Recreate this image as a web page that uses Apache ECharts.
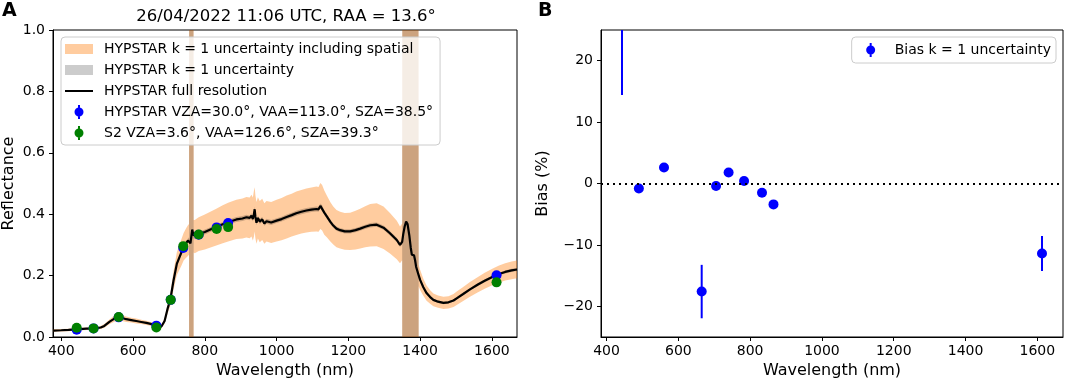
<!DOCTYPE html>
<html><head><meta charset="utf-8">
<script src="https://cdn.jsdelivr.net/npm/echarts@6/dist/echarts.min.js"></script>
<style>html,body{margin:0;padding:0;background:#fff}#c{width:1065px;height:385px}</style>
</head><body><div id="c"></div>
<script>
// ---------- data ----------
const specWl = [378,400,420,443,470,493,510,520,535,548,558,570,581,595,609,623,637,652,665,679,688,697,704,713,722,735,741,748,753,756,757,760,765,768,769,772,783,800,814,832,850,865,888,905,916,925,930,934,937,939,941,944,948,953,960,966,972,985,1000,1014,1028,1042,1055,1069,1083,1097,1111,1117,1122,1127,1133,1140,1150,1158,1167,1177,1190,1205,1220,1233,1247,1261,1279,1298,1316,1335,1344,1350,1351,1353,1357,1361,1365,1370,1374,1377,1380,1383,1386,1389,1395,1396,1400,1409,1418,1428,1437,1450,1465,1479,1493,1502,1520,1539,1560,1580,1604,1620,1637,1655,1670];
const specRefl = [0.021,0.022,0.023,0.025,0.027,0.028,0.031,0.036,0.050,0.060,0.065,0.062,0.058,0.055,0.052,0.049,0.046,0.042,0.037,0.034,0.052,0.095,0.122,0.185,0.238,0.276,0.294,0.306,0.314,0.318,0.316,0.305,0.350,0.332,0.328,0.327,0.335,0.342,0.349,0.358,0.367,0.374,0.383,0.386,0.390,0.388,0.395,0.384,0.402,0.416,0.392,0.372,0.388,0.376,0.383,0.370,0.377,0.373,0.379,0.384,0.391,0.397,0.403,0.408,0.412,0.415,0.417,0.416,0.427,0.421,0.405,0.393,0.375,0.363,0.353,0.348,0.344,0.344,0.348,0.353,0.359,0.364,0.366,0.356,0.338,0.316,0.300,0.310,0.315,0.335,0.360,0.376,0.368,0.330,0.290,0.268,0.262,0.266,0.250,0.228,0.205,0.200,0.186,0.162,0.143,0.130,0.121,0.115,0.111,0.113,0.119,0.126,0.140,0.155,0.170,0.183,0.197,0.205,0.212,0.217,0.220];
// k = 1 uncertainty including spatial (half width, reflectance units)
const spatUnc = [0.004,0.004,0.004,0.004,0.004,0.004,0.005,0.006,0.008,0.010,0.011,0.010,0.009,0.008,0.008,0.007,0.007,0.006,0.006,0.006,0.009,0.016,0.020,0.030,0.037,0.043,0.045,0.048,0.050,0.050,2,2,2,2,0.053,0.054,0.055,0.057,0.058,0.060,0.062,0.063,0.064,0.065,0.066,0.066,0.068,0.070,0.075,0.072,0.070,0.068,0.067,0.067,0.067,0.066,0.066,0.067,0.068,0.069,0.070,0.070,0.071,0.071,0.072,0.072,0.073,0.073,0.075,0.074,0.072,0.068,0.064,0.062,0.061,0.060,0.060,0.061,0.063,0.065,0.067,0.069,0.070,0.069,0.066,0.063,0.060,0.060,2,2,2,2,2,2,2,2,2,2,2,2,2,0.035,0.033,0.028,0.025,0.022,0.021,0.020,0.020,0.020,0.021,0.022,0.023,0.024,0.025,0.026,0.027,0.028,0.028,0.029,0.029];
// k = 1 instrument uncertainty (half width)
const instUnc = [0.002,0.002,0.002,0.002,0.002,0.002,0.002,0.002,0.002,0.002,0.002,0.002,0.002,0.002,0.002,0.002,0.002,0.002,0.002,0.002,0.003,0.003,0.004,0.004,0.005,0.005,0.006,0.006,0.007,0.007,2,2,2,2,0.007,0.007,0.007,0.008,0.008,0.008,0.008,0.008,0.008,0.008,0.008,0.008,0.008,0.008,0.009,0.009,0.009,0.008,0.008,0.008,0.008,0.008,0.008,0.008,0.008,0.008,0.008,0.008,0.008,0.008,0.008,0.008,0.008,0.008,0.008,0.008,0.008,0.008,0.008,0.007,0.007,0.007,0.007,0.007,0.007,0.007,0.007,0.007,0.007,0.007,0.007,0.007,0.007,0.007,2,2,2,2,2,2,2,2,2,2,2,2,2,0.006,0.006,0.005,0.005,0.005,0.004,0.004,0.004,0.004,0.004,0.004,0.004,0.004,0.005,0.005,0.005,0.005,0.005,0.005,0.005];

const s2Bands = [443, 490, 560, 665, 705, 740, 783, 833, 865, 1613];
const hypRefl = [0.024, 0.028, 0.064, 0.037, 0.121, 0.290, 0.333, 0.357, 0.371, 0.201];
const s2Refl  = [0.030, 0.028, 0.065, 0.031, 0.121, 0.296, 0.334, 0.352, 0.358, 0.178];
const biasPct = [31.0, -0.8, 2.6, -17.6, -0.4, 1.8, 0.4, -1.5, -3.4, -11.4];
const biasUnc = [16.6, 0.4, 0.4, 4.35, 0.4, 0.4, 0.4, 0.4, 0.4, 2.85];

const xTicks = [400, 600, 800, 1000, 1200, 1400, 1600];
const yTicksA = [0, 0.2, 0.4, 0.6, 0.8, 1.0];
const yTicksB = [-20, -10, 0, 10, 20];

const titleText = '26/04/2022 11:06 UTC, RAA = 13.6°';
const names = {
  spat: 'HYPSTAR k = 1 uncertainty including spatial',
  inst: 'HYPSTAR k = 1 uncertainty',
  line: 'HYPSTAR full resolution',
  hyp: 'HYPSTAR VZA=30.0°, VAA=113.0°, SZA=38.5°',
  s2: 'S2 VZA=3.6°, VAA=126.6°, SZA=39.3°',
  bias: 'Bias k = 1 uncertainty'
};

// ---------- styling ----------
const FONT = 'DejaVu Sans';
const ORANGE = 'rgba(255,127,14,0.40)';
const GREY = 'rgba(0,0,0,0.20)';
const BLUE = '#0000ff';
const GREEN = '#008000';

const patchIcon = 'path://M0,2h28v10h-28z M0,0L0,0 M0,14L0,14';
const lineIcon = 'path://M0,6h28v2h-28z M0,0L0,0 M0,14L0,14';
const ebIcon = 'path://M13,0h2v14h-2z M9.5,7a4.5,4.5 0 1,1 9,0a4.5,4.5 0 1,1 -9,0z M0,7L0,7 M28,7L28,7';

function bandRender(half, color) {
  return function (params, api) {
    if (params.dataIndex !== 0) return;
    const pts = [];
    for (let i = 0; i < specWl.length; i++) pts.push(api.coord([specWl[i], specRefl[i] + half[i]]));
    for (let i = specWl.length - 1; i >= 0; i--) pts.push(api.coord([specWl[i], specRefl[i] - half[i]]));
    return { type: 'polygon', shape: { points: pts }, style: { fill: color } };
  };
}

function errRender(params, api) {
  const x = api.value(0), y = api.value(1), e = api.value(2);
  const p1 = api.coord([x, y + e]);
  const p2 = api.coord([x, y - e]);
  return { type: 'line', shape: { x1: p1[0], y1: p1[1], x2: p2[0], y2: p2[1] },
           style: { stroke: BLUE, lineWidth: 2 } };
}

const axisText = { fontFamily: FONT, fontSize: 14, color: '#000' };
const nameText = { fontFamily: FONT, fontSize: 16, color: '#000' };
const minus = v => (v < 0 ? '\u2212' + (-v) : String(v));

function xAxis(grid, min, max) {
  return {
    gridIndex: grid, type: 'value', min: min, max: max,
    axisLine: { show: true, onZero: false, lineStyle: { color: '#000', width: 1 } },
    axisTick: { show: true, length: 4, customValues: xTicks, lineStyle: { color: '#000' } },
    axisLabel: Object.assign({ customValues: xTicks, margin: 7, formatter: v => String(v) }, axisText),
    splitLine: { show: false },
    name: 'Wavelength (nm)', nameLocation: 'middle', nameGap: 25, nameTextStyle: nameText
  };
}

const chart = echarts.init(document.getElementById('c'), null, { renderer: 'canvas' });
chart.setOption({
  animation: false,
  backgroundColor: '#fff',
  grid: [
    { left: 53, top: 30, width: 464, height: 307, show: true, borderColor: '#000', borderWidth: 1, outerBoundsMode: 'none', containLabel: false },
    { left: 601, top: 30, width: 462, height: 307, show: true, borderColor: '#000', borderWidth: 1, outerBoundsMode: 'none', containLabel: false }
  ],
  xAxis: [xAxis(0, 377, 1670), xAxis(1, 384.5, 1671.5)],
  yAxis: [
    {
      gridIndex: 0, type: 'value', min: 0, max: 1, interval: 0.2,
      axisLine: { show: true, lineStyle: { color: '#000' } },
      axisTick: { show: true, length: 4, customValues: yTicksA, lineStyle: { color: '#000' } },
      axisLabel: Object.assign({ margin: 8, customValues: yTicksA, formatter: v => v.toFixed(1) }, axisText),
      splitLine: { show: false },
      name: 'Reflectance', nameLocation: 'middle', nameGap: 36, nameTextStyle: nameText
    },
    {
      gridIndex: 1, type: 'value', min: -25, max: 25,
      axisLine: { show: true, onZero: false, lineStyle: { color: '#000' } },
      axisTick: { show: true, length: 4, customValues: yTicksB, lineStyle: { color: '#000' } },
      axisLabel: Object.assign({ margin: 8, customValues: yTicksB, formatter: minus }, axisText),
      splitLine: { show: false },
      name: 'Bias (%)', nameLocation: 'middle', nameGap: 50, nameTextStyle: nameText
    }
  ],
  legend: [
    {
      left: 61, top: 37, orient: 'vertical', selectedMode: false,
      itemWidth: 28, itemHeight: 14, itemGap: 5,
      backgroundColor: 'rgba(255,255,255,0.8)', borderColor: '#cccccc', borderWidth: 1, borderRadius: 4,
      padding: [4, 7, 4, 4],
      textStyle: { fontFamily: FONT, fontSize: 14, color: '#000', lineHeight: 16, padding: [0, 0, 0, 6] },
      data: [
        { name: names.spat, icon: patchIcon },
        { name: names.inst, icon: patchIcon },
        { name: names.line, icon: lineIcon },
        { name: names.hyp, icon: ebIcon },
        { name: names.s2, icon: ebIcon }
      ]
    },
    {
      right: 9, top: 37, orient: 'vertical', selectedMode: false,
      itemWidth: 28, itemHeight: 14,
      backgroundColor: 'rgba(255,255,255,0.8)', borderColor: '#cccccc', borderWidth: 1, borderRadius: 4,
      padding: [5, 5, 5, 5],
      textStyle: { fontFamily: FONT, fontSize: 14, color: '#000', lineHeight: 16, padding: [0, 0, 0, 5] },
      data: [{ name: names.bias, icon: ebIcon }]
    }
  ],
  graphic: [
    { type: 'text', x: 286, y: 17, silent: true,
      style: { text: titleText, font: '16.5px "DejaVu Sans"', fill: '#000', align: 'center', verticalAlign: 'middle', textAlign: 'center', textVerticalAlign: 'middle' } },
    { type: 'text', x: 2, y: 11, silent: true,
      style: { text: 'A', font: 'bold 19px "DejaVu Sans"', fill: '#000', align: 'left', verticalAlign: 'middle', textAlign: 'left', textVerticalAlign: 'middle' } },
    { type: 'text', x: 538, y: 11, silent: true,
      style: { text: 'B', font: 'bold 19px "DejaVu Sans"', fill: '#000', align: 'left', verticalAlign: 'middle', textAlign: 'left', textVerticalAlign: 'middle' } }
  ],
  series: [
    { name: names.spat, type: 'custom', xAxisIndex: 0, yAxisIndex: 0, clip: true, silent: true,
      itemStyle: { color: ORANGE }, data: [[specWl[0], specRefl[0]]], encode: { x: 0, y: 1 },
      renderItem: bandRender(spatUnc, ORANGE), z: 1 },
    { name: names.inst, type: 'custom', xAxisIndex: 0, yAxisIndex: 0, clip: true, silent: true,
      itemStyle: { color: GREY }, data: [[specWl[0], specRefl[0]]], encode: { x: 0, y: 1 },
      renderItem: bandRender(instUnc, GREY), z: 2 },
    { name: names.line, type: 'line', xAxisIndex: 0, yAxisIndex: 0, clip: true, silent: true,
      color: '#000', itemStyle: { color: '#000' }, showSymbol: false, symbol: 'none',
      lineStyle: { color: '#000', width: 2.2 }, data: specWl.map((w, i) => [w, specRefl[i]]), z: 3 },
    { name: names.hyp, type: 'scatter', xAxisIndex: 0, yAxisIndex: 0, clip: true, silent: true,
      symbolSize: 10, itemStyle: { color: BLUE, opacity: 1 }, data: s2Bands.map((w, i) => [w, hypRefl[i]]), z: 4 },
    { name: names.s2, type: 'scatter', xAxisIndex: 0, yAxisIndex: 0, clip: true, silent: true,
      symbolSize: 10, itemStyle: { color: GREEN, opacity: 1 }, data: s2Bands.map((w, i) => [w, s2Refl[i]]), z: 5 },

    { name: 'bias_err', type: 'custom', xAxisIndex: 1, yAxisIndex: 1, clip: true, silent: true,
      data: s2Bands.map((w, i) => [w, biasPct[i], biasUnc[i]]), encode: { x: 0, y: 1 },
      renderItem: errRender, z: 3 },
    { name: names.bias, type: 'scatter', xAxisIndex: 1, yAxisIndex: 1, clip: true, silent: true,
      symbolSize: 10, itemStyle: { color: BLUE, opacity: 1 }, data: s2Bands.map((w, i) => [w, biasPct[i]]), z: 4,
      markLine: { silent: true, symbol: 'none', label: { show: false },
        lineStyle: { color: '#000', width: 2, type: [2, 4] }, data: [{ yAxis: 0 }] } }
  ]
});
</script>
</body></html>
